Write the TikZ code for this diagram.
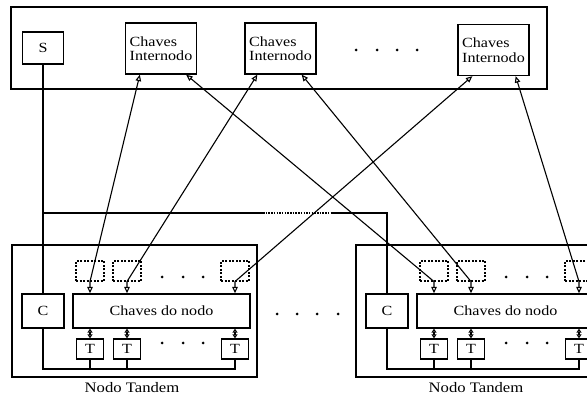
\documentclass[tikz,border=0pt]{standalone}
\usepackage{fontspec}
\setmainfont{Liberation Serif}[FakeStretch=1.15]
\usetikzlibrary{arrows.meta,calc}
\newcommand\tandemblock[2]{%
  \begin{scope}[shift={(#2,0)}, name prefix=#1-]
    \node[box, minimum width=245pt, minimum height=132pt] (F) at (134.5,311) {};
    \node[box, minimum width=42pt, minimum height=34pt] (C) at (43,311) {C};
    \node[box, minimum width=177pt, minimum height=34pt] (K) at (161.5,311) {Chaves do nodo};
    \node[dbox] (D1) at (90,271) {};
    \node[dbox] (D2) at (127,271) {};
    \node[dbox] (D3) at (235,271) {};
    \node[tbox] (T1) at (90,349) {T};
    \node[tbox] (T2) at (127,349) {T};
    \node[tbox] (T3) at (235,349) {T};
    \foreach \x [count=\i] in {162,183,203} {
      \node[dot] (da\i) at (\x,277) {};
      \node[dot] (db\i) at (\x,343) {};
    }
    \node[lbl] (N) at (132,388) {Nodo Tandem};
    \coordinate (B) at (0,369);
    \draw[wire] (C.south) |- (T3.south |- B) -- (T3.south);
    \draw[wire] (T1.south) -- (T1.south |- B);
    \draw[wire] (T2.south) -- (T2.south |- B);
    \draw[tlink] (K.south -| T1) -- (T1.north);
    \draw[tlink] (K.south -| T2) -- (T2.north);
    \draw[tlink] (K.south -| T3) -- (T3.north);
  \end{scope}}
\begin{document}
\begin{tikzpicture}[x=1pt,y=-1pt,
  box/.style={draw, line width=1.3pt, inner sep=0pt, font=\fontsize{14}{14.5}\selectfont},
  tbox/.style={box, minimum width=27pt, minimum height=20pt},
  ibox/.style={box, minimum width=71pt, minimum height=51pt, align=left},
  dbox/.style={draw, line width=1.1pt, dash pattern=on 2pt off 1.5pt, minimum width=28pt, minimum height=20pt, inner sep=0pt},
  wire/.style={line width=1.3pt},
  link/.style={line width=1.1pt, {Triangle[open,length=6.5pt,width=5.5pt]}-{Triangle[open,length=6.5pt,width=5.5pt]}},
  tlink/.style={line width=1.1pt, {Triangle[open,length=4pt,width=5pt]}-{Triangle[open,length=4pt,width=5pt]}},
  dot/.style={circle, fill, inner sep=0pt, minimum size=3pt},
  lbl/.style={font=\fontsize{14.5}{14.5}\selectfont}
]
\clip (0,0) rectangle (587,398);
% top level
\node[box, minimum width=536pt, minimum height=82pt] (top) at (279,48) {};
\node[box, minimum width=41pt, minimum height=32pt] (S) at (43,48) {S};
\node[ibox] (I1) at (161,48.5) {Chaves\\Internodo};
\node[ibox] (I2) at (280.5,48.5) {Chaves\\Internodo};
\node[ibox] (I3) at (493.5,50) {Chaves\\Internodo};
\foreach \x [count=\i] in {356,377,397,417} {\node[dot] (tp\i) at (\x,50) {};}
% tandem nodes
\tandemblock{L}{0}
\tandemblock{R}{344}
\foreach \x [count=\i] in {277,297,317,338} {\node[dot] (md\i) at (\x,314) {};}
% control wire
\coordinate (h1) at (263,213);
\coordinate (h2) at (332,213);
\draw[wire] (S.south) -- (L-C.north);
\draw[wire] (S.south |- h1) -- (h1);
\draw[line width=1.3pt, dash pattern=on 1.5pt off 1.2pt] (h1) -- (h2);
\draw[wire] (h2) -| (R-C.north);
% internode links
\draw[link] ($(I1.south west)+(15,0)$) -- (L-D1.south) -- (L-K.north -| L-D1);
\draw[link] ($(I1.south east)+(-11,0)$) -- (R-D1.south) -- (R-K.north -| R-D1);
\draw[link] ($(I2.south west)+(13,0)$) -- (L-D2.south) -- (L-K.north -| L-D2);
\draw[link] ($(I2.south east)+(-15,0)$) -- (R-D2.south) -- (R-K.north -| R-D2);
\draw[link] ($(I3.south west)+(15,0)$) -- (L-D3.south) -- (L-K.north -| L-D3);
\draw[link] ($(I3.south east)+(-14,0)$) -- (R-D3.south) -- (R-K.north -| R-D3);
\end{tikzpicture}
\end{document}
